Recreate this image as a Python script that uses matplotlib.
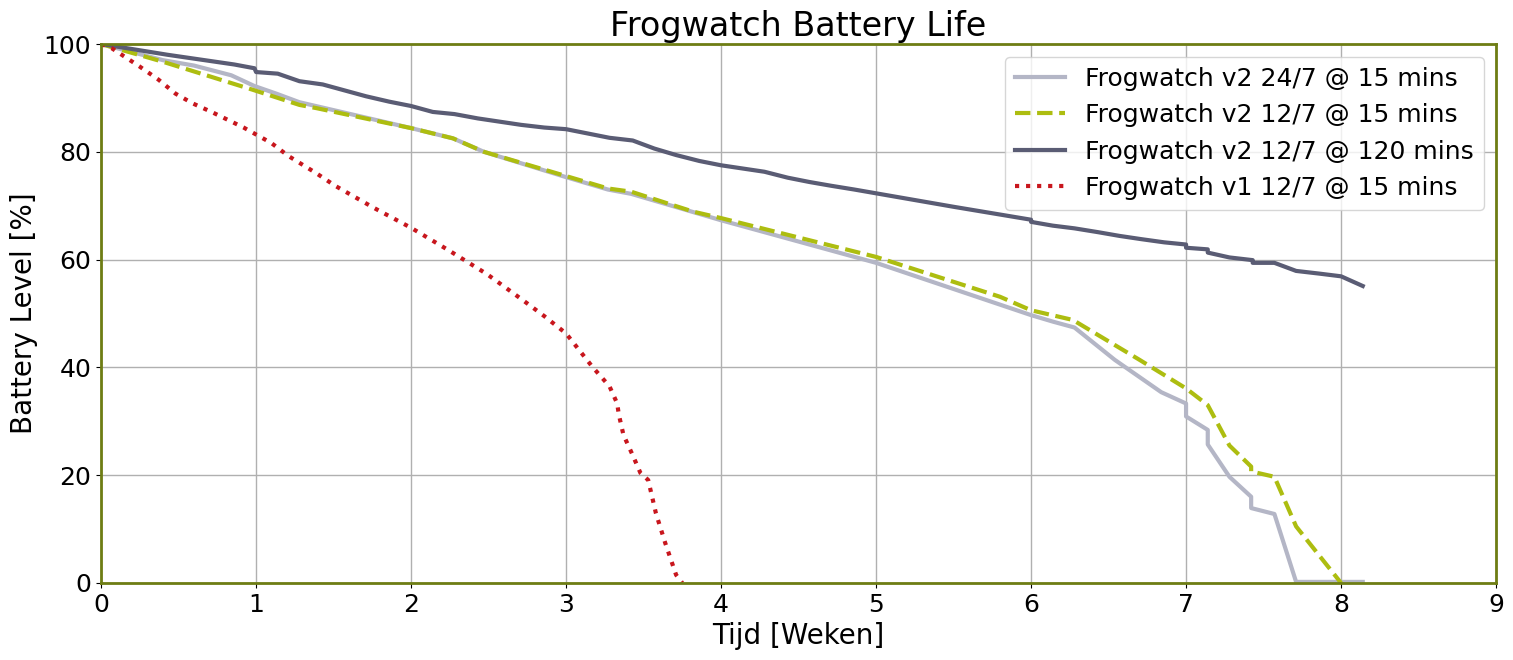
import matplotlib
matplotlib.use("Agg")
import matplotlib.pyplot as plt

# Frogwatch v2 24/7 @ 15 mins
v2_247_15_x = [0, 0.4, 0.6, 0.84, 0.99, 1.13, 1.28, 1.43, 2.0, 2.27, 2.47, 3.0, 3.27, 3.42,
               4.0, 5.0, 6.0, 6.14, 6.28, 6.54, 6.84, 7.0, 7.0, 7.14, 7.14, 7.28, 7.42, 7.42,
               7.57, 7.71, 8.14]
v2_247_15_y = [100, 97.0, 96.0, 94.2, 92.2, 90.8, 89.2, 88.2, 84.4, 82.5, 80.0, 75.3, 73.0, 72.2,
               67.3, 59.4, 49.7, 48.5, 47.4, 41.4, 35.4, 33.3, 30.9, 28.4, 25.7, 19.7, 16.0, 13.9,
               12.8, 0.2, 0.2]

# Frogwatch v2 12/7 @ 15 mins
v2_127_15_x = [0, 0.4, 0.98, 1.28, 1.39, 2.0, 2.27, 2.47, 3.0, 3.27, 3.42, 3.82, 4.0, 5.0,
               5.8, 6.0, 6.27, 6.7, 7.0, 7.14, 7.28, 7.42, 7.42, 7.57, 7.71, 8.0]
v2_127_15_y = [100, 96.7, 91.5, 88.7, 88.1, 84.4, 82.5, 80.0, 75.5, 73.2, 72.6, 68.9, 67.7, 60.5,
               53.1, 50.6, 48.8, 41.4, 36.1, 33.0, 25.5, 21.6, 20.7, 19.7, 10.5, 0]

# Frogwatch v2 12/7 @ 120 mins
v2_127_120_x = [0, 0.43, 0.86, 0.99, 1.0, 1.14, 1.28, 1.43, 1.57, 1.71, 1.86, 2.0, 2.14, 2.28,
                2.43, 2.57, 2.71, 2.86, 3.0, 3.14, 3.28, 3.43, 3.57, 3.71, 3.86, 4.0, 4.14,
                4.28, 4.43, 4.57, 4.71, 4.86, 5.0, 5.5, 6.0, 6.0, 6.14, 6.28, 6.43, 6.57, 6.71,
                6.86, 7.0, 7.0, 7.14, 7.14, 7.28, 7.43, 7.43, 7.57, 7.71, 7.86, 8.0, 8.14]
v2_127_120_y = [100, 98, 96.2, 95.5, 94.8, 94.5, 93.1, 92.5, 91.4, 90.3, 89.3, 88.5, 87.4, 87.0,
                86.2, 85.6, 85.0, 84.5, 84.2, 83.4, 82.6, 82.1, 80.6, 79.4, 78.3, 77.5, 76.9,
                76.3, 75.2, 74.4, 73.7, 73.0, 72.3, 69.8, 67.4, 67.0, 66.3, 65.8, 65.1, 64.4, 63.8,
                63.2, 62.8, 62.2, 61.9, 61.3, 60.4, 59.9, 59.4, 59.4, 57.9, 57.4, 56.9, 55.1]

# Frogwatch v1 12/7 @ 15 mins
v1_127_15_x = [0, 0.07, 0.25, 0.37, 0.48, 0.59, 0.72, 0.92, 1.1, 1.21, 1.39, 1.51, 1.76, 2.0,
               2.25, 2.49, 2.72, 2.86, 3.0, 3.17, 3.28, 3.33, 3.34, 3.37, 3.43, 3.48, 3.53,
               3.58, 3.64, 3.71, 3.75]
v1_127_15_y = [100, 99.2, 95.8, 93.4, 90.8, 89.0, 87.3, 84.5, 81.6, 79.2, 76.0, 73.7, 69.6, 65.9,
               61.6, 57.3, 52.5, 49.5, 46.3, 40.1, 36.5, 33.3, 31.3, 27.5, 23.7, 20.4, 19.1,
               12.9, 7.4, 1.5, 0]

fig = plt.figure(figsize=(15.13, 6.6), dpi=100)
ax = fig.add_axes([0.0668, 0.1167, 0.922, 0.8166])

ax.plot(v2_247_15_x, v2_247_15_y, color="#b4b6c6", lw=3, label="Frogwatch v2 24/7 @ 15 mins")
ax.plot(v2_127_15_x, v2_127_15_y, color="#adbd10", lw=3, ls="--", label="Frogwatch v2 12/7 @ 15 mins")
ax.plot(v2_127_120_x, v2_127_120_y, color="#5a5c74", lw=3, label="Frogwatch v2 12/7 @ 120 mins")
ax.plot(v1_127_15_x, v1_127_15_y, color="#c8161d", lw=3, ls=":", label="Frogwatch v1 12/7 @ 15 mins")

ax.set_xlim(0, 9)
ax.set_ylim(0, 100)
ax.set_xticks(range(0, 10))
ax.set_yticks(range(0, 101, 20))
ax.grid(True, color="#b0b0b0", lw=1)
ax.tick_params(labelsize=18)
for s in ax.spines.values():
    s.set_color("#6e7d14")
    s.set_linewidth(2)

ax.set_title("Frogwatch Battery Life", fontsize=24)
ax.set_xlabel("Tijd [Weken]", fontsize=20)
ax.set_ylabel("Battery Level [%]", fontsize=20)
ax.legend(loc="upper right", fontsize=18)

fig.savefig("out.png", dpi=100)
